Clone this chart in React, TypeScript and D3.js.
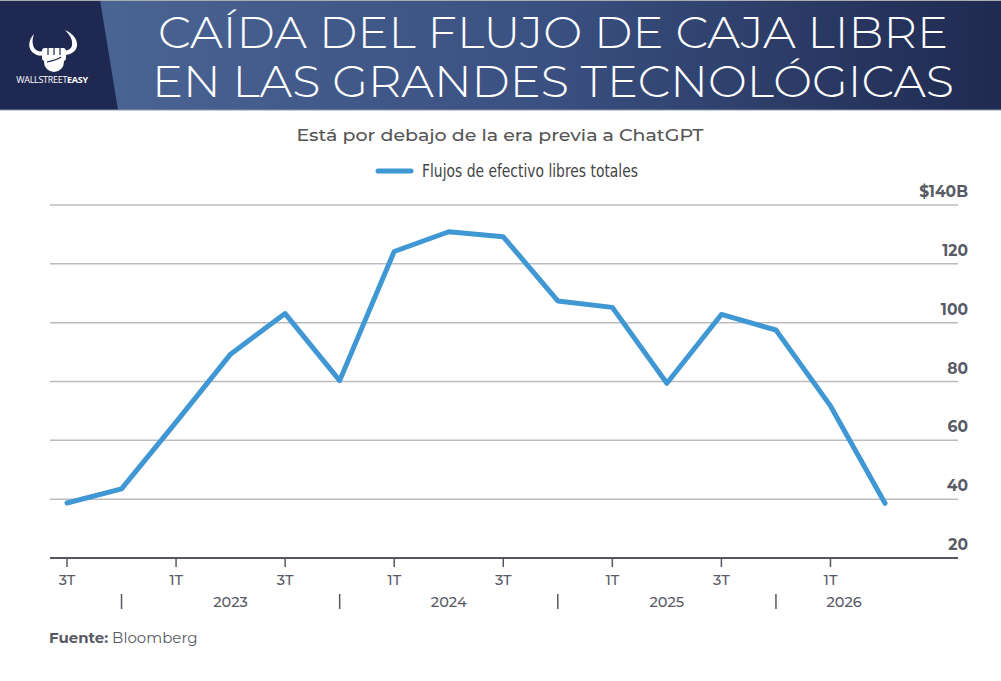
import * as d3 from "d3";

// Free cash flow, $B, by quarter (3T 2022 .. 2T 2026)
const quarters = [
  "3T-2022", "4T-2022",
  "1T-2023", "2T-2023", "3T-2023", "4T-2023",
  "1T-2024", "2T-2024", "3T-2024", "4T-2024",
  "1T-2025", "2T-2025", "3T-2025", "4T-2025",
  "1T-2026", "2T-2026",
];
const fcfValues = [
  38.7, 43.5, 66.2, 89.3, 103.1, 80.3, 124.2, 130.9,
  129.2, 107.4, 105.2, 79.4, 102.8, 97.5, 71.7, 38.6,
];
const yTicks = [20, 40, 60, 80, 100, 120, 140];
const years = ["2023", "2024", "2025", "2026"];

const W = 1001;
const H = 681;
const plot = { left: 50, right: 958, top: 205, bottom: 558 };

const LINE_BLUE = "#3f97d3";
const TEXT_GRAY = "#585b66";
const NAVY = "#1f2850";

export default function App() {
  const x = d3.scalePoint<string>().domain(quarters).range([67, 885]);
  const step = x.step();
  const y = d3.scaleLinear().domain([20, 140]).range([plot.bottom, plot.top]);

  const line = d3
    .line<number>()
    .x((_, i) => x(quarters[i]) as number)
    .y((d) => y(d));

  // year separators sit on the 4T of the previous year
  const seps = years.map((yr) => x(`4T-${+yr - 1}`) as number);
  const yearCenters = years.map((_, i) => {
    const end = i < years.length - 1 ? seps[i + 1] : (x(quarters[quarters.length - 1]) as number) + step / 2;
    return (seps[i] + end) / 2;
  });

  return (
    <svg
      width={W}
      height={H}
      viewBox={`0 0 ${W} ${H}`}
      style={{ position: "absolute", left: 0, top: 0, background: "#fff" }}
      fontFamily="Montserrat, 'Open Sans', 'Noto Sans', sans-serif"
    >
      <defs>
        <linearGradient id="hdr" x1="0" x2="1" y1="0" y2="0">
          <stop offset="0%" stopColor="#4d6898" />
          <stop offset="55%" stopColor="#3a5080" />
          <stop offset="100%" stopColor="#1f2a50" />
        </linearGradient>
      </defs>

      {/* header */}
      <rect x={0} y={0} width={W} height={110} fill="url(#hdr)" />
      <polygon points="0,0 100,0 118,110 0,110" fill={NAVY} />
      <line x1={0} x2={W} y1={0.5} y2={0.5} stroke="#a9acb3" />
      <line x1={0} x2={W} y1={110} y2={110} stroke="#8d97ad" />

      {/* logo */}
      <g fill="#fff" stroke="none">
        <path d="M34,34 C28,40 27,50 35,54 C38,56 41,56 43,55 L43,51 C40,52 37,51 35,49 C32,45 32,40 34,34 Z" />
        <path d="M65,30 C72,33 78,39 77,46 C76,51 72,54 66,55 L65,51 C69,50 72,48 72,45 C73,40 70,35 65,30 Z" />
        <rect x={42} y={48} width={24} height={13} rx={3} />
        <circle cx={54} cy={62} r={10} />
      </g>
      <g stroke={NAVY} strokeWidth={1.2} fill="none">
        <line x1={48} x2={48} y1={48} y2={55} />
        <line x1={54} x2={54} y1={48} y2={55} />
        <line x1={60} x2={60} y1={48} y2={55} />
        <path d="M47,62 C52,61 57,60 61,57" />
      </g>
      <text x={52} y={83} textAnchor="middle" fill="#fff" fontSize={9} letterSpacing={-0.3}
        fontFamily="'Open Sans', sans-serif">
        WALLSTREET<tspan fontWeight={700}>EASY</tspan>
      </text>

      <text x={553} y={48} textAnchor="middle" fill="#fff" fontSize={44} fontWeight={300}
        textLength={790} lengthAdjust="spacingAndGlyphs">
        CAÍDA DEL FLUJO DE CAJA LIBRE
      </text>
      <text x={553} y={97} textAnchor="middle" fill="#fff" fontSize={44} fontWeight={300}
        textLength={802} lengthAdjust="spacingAndGlyphs">
        EN LAS GRANDES TECNOLÓGICAS
      </text>

      {/* subtitle */}
      <text x={500} y={141} textAnchor="middle" fill="#555" fontSize={17} fontWeight={500}
        textLength={407} lengthAdjust="spacingAndGlyphs">
        Está por debajo de la era previa a ChatGPT
      </text>

      {/* legend */}
      <line x1={378} x2={411} y1={171} y2={171} stroke={LINE_BLUE} strokeWidth={5} strokeLinecap="round" />
      <text x={422} y={177} fill="#444" fontSize={17}
        fontFamily="'Liberation Sans Narrow', 'DejaVu Sans Condensed', sans-serif"
        textLength={216} lengthAdjust="spacingAndGlyphs">
        Flujos de efectivo libres totales
      </text>

      {/* gridlines + y labels */}
      {yTicks.map((t) => (
        <g key={t}>
          {t > 20 && (
            <line x1={plot.left} x2={plot.right} y1={y(t)} y2={y(t)} stroke="#bbbcc0" strokeWidth={1.5} />
          )}
          <text x={968} y={y(t) - 8} textAnchor="end" fill={TEXT_GRAY} fontSize={15.5} fontWeight={700}>
            {t === 140 ? "$140B" : t}
          </text>
        </g>
      ))}

      {/* x axis */}
      <line x1={plot.left} x2={plot.right} y1={plot.bottom} y2={plot.bottom} stroke="#55585f" strokeWidth={2} />
      {quarters.map((q, i) =>
        i % 2 === 0 ? (
          <g key={q} transform={`translate(${x(q)},0)`}>
            <line y1={plot.bottom} y2={plot.bottom + 9} stroke="#55585f" strokeWidth={1.5} />
            <text y={585} textAnchor="middle" fill={TEXT_GRAY} fontSize={14.5} fontWeight={500}>
              {q.split("-")[0]}
            </text>
          </g>
        ) : null
      )}
      {seps.map((s, i) => (
        <line key={i} x1={s} x2={s} y1={594} y2={609} stroke="#55585f" strokeWidth={1.5} />
      ))}
      {years.map((yr, i) => (
        <text key={yr} x={yearCenters[i]} y={607} textAnchor="middle" fill={TEXT_GRAY} fontSize={14.5} fontWeight={500}>
          {yr}
        </text>
      ))}

      {/* series */}
      <path d={line(fcfValues) ?? ""} fill="none" stroke={LINE_BLUE} strokeWidth={5}
        strokeLinejoin="round" strokeLinecap="round" />

      {/* source */}
      <text x={49} y={643} fill={TEXT_GRAY} fontSize={15}>
        <tspan fontWeight={700}>Fuente:</tspan> Bloomberg
      </text>
    </svg>
  );
}
